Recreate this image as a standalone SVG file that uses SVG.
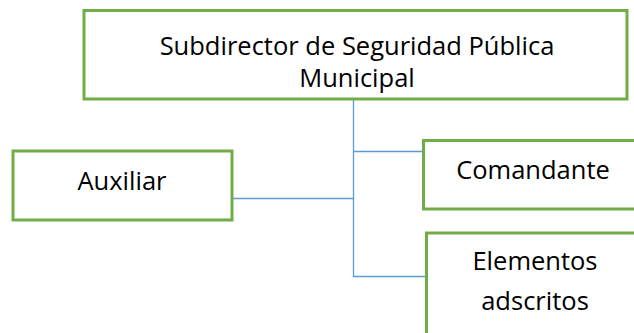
<svg xmlns="http://www.w3.org/2000/svg" width="634" height="333" viewBox="0 0 634 333">
<style>
.box{fill:#fff;stroke:#70AD47;stroke-width:3}
.t{font-family:"Open Sans","Liberation Sans",sans-serif;font-size:25.5px;fill:#000;text-anchor:middle}
.c{stroke:#5B9BD5;stroke-width:1.3;fill:none}
</style>
<rect width="634" height="333" fill="#fff"/>
<g id="connectors">
<path class="c" d="M353.5 99V276.5H426M353.5 151.5H423M232 198.5H353.5"/>
</g>
<g id="subdirector">
<rect class="box" x="84" y="10.5" width="543" height="88.5"/>
<text class="t" x="357" y="55">Subdirector de Seguridad Pública</text>
<text class="t" x="357" y="87">Municipal</text>
</g>
<g id="auxiliar">
<rect class="box" x="13" y="151" width="219" height="69"/>
<text class="t" x="122" y="190">Auxiliar</text>
</g>
<g id="comandante">
<path class="box" d="M640 140.5H423.5V209H640"/>
<text class="t" x="533" y="179">Comandante</text>
</g>
<g id="elementos">
<path class="box" d="M640 233H426.5V340"/>
<text class="t" x="535" y="270">Elementos</text>
<text class="t" x="535" y="310">adscritos</text>
</g>
</svg>
